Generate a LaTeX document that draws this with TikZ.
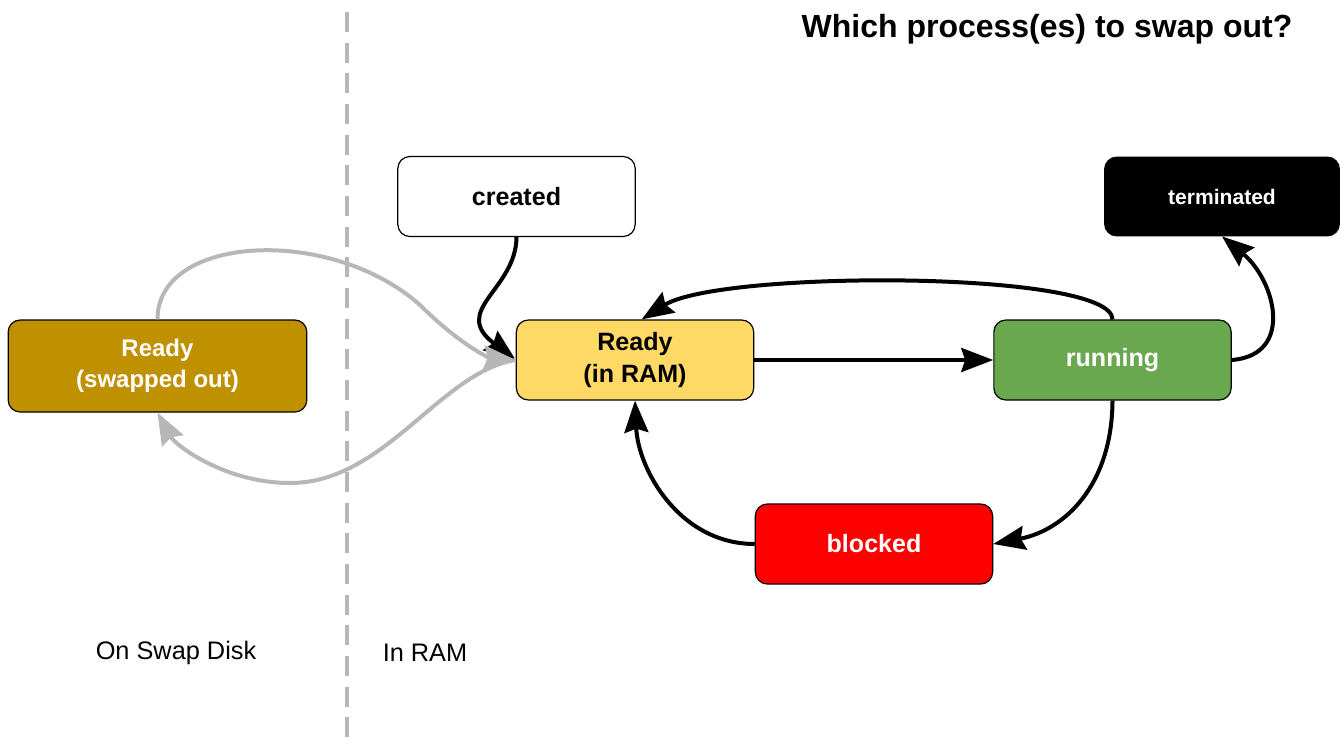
\documentclass[tikz,border=0pt]{standalone}
\usepackage{fontspec}
\setmainfont{Liberation Sans}
\usetikzlibrary{arrows.meta}

\definecolor{swapgold}{HTML}{BF9000}
\definecolor{ramyellow}{HTML}{FFD966}
\definecolor{rungreen}{HTML}{6AA84F}
\definecolor{lightgray}{HTML}{B7B7B7}

\begin{document}
\begin{tikzpicture}[x=0.75pt,y=-0.75pt,
  state/.style={draw=black,line width=0.9pt,rounded corners=9pt,minimum width=178pt,
    minimum height=60pt,align=center,font=\fontsize{18.8}{24}\selectfont\bfseries},
  move/.style={-{Stealth[length=24pt,width=18pt,inset=3pt]},line width=3pt,black},
  swap/.style={-{Stealth[length=24pt,width=18pt,inset=3pt]},line width=3pt,lightgray}]
\useasboundingbox (0,0) rectangle (1344,746);

\node[font=\fontsize{24}{28}\selectfont\bfseries] (title) at (1047,29) {Which process(es) to swap out?};

\draw[lightgray,line width=3pt,dash pattern=on 15pt off 8pt] (347,12)--(347,746);
\node[font=\fontsize{19}{22}\selectfont] (disk) at (176,653) {On Swap Disk};
\node[font=\fontsize{19}{22}\selectfont] (ram) at (425,653) {In RAM};

\node[state,fill=white] (created) at (516.5,196.5) {created};
\node[state,fill=black,text=white,font=\fontsize{15.8}{18}\selectfont\bfseries,minimum width=176pt,minimum height=59pt] (terminated) at (1222,196.5) {terminated};
\node[state,fill=swapgold,text=white,minimum width=224pt,minimum height=69pt,font=\fontsize{18}{23}\selectfont\bfseries] (swapped) at (157.5,366) {Ready\\(swapped out)};
\node[state,fill=ramyellow] (ready) at (635,360) {Ready\\(in RAM)};
\node[state,fill=rungreen,text=white] (running) at (1112.5,360) {running};
\node[state,fill=red,text=white] (blocked) at (874,544) {blocked};

\draw[move] (created.south) .. controls (516,290) and (450,310) .. (ready.west);
\draw[move] (ready.east)--(running.west);
\draw[move] (running.north) .. controls (1112,270) and (720,270) .. ([xshift=5]ready.north);
\draw[move] (running.south) .. controls (1112,485) and (1065,530) .. (blocked.east);
\draw[move] (blocked.west) .. controls (680,544) and (638,470) .. (ready.south);
\draw[move] (running.east) .. controls (1295,355) and (1275,280) .. (terminated.south);

\draw[swap] (swapped.north) .. controls (157,235) and (330,225) .. (420,305)
  .. controls (460,345) and (490,358) .. (ready.west);
\draw[swap] (ready.west) .. controls (440,372) and (385,483) .. (290,483)
  .. controls (225,483) and (175,445) .. (swapped.south);
\end{tikzpicture}
\end{document}
